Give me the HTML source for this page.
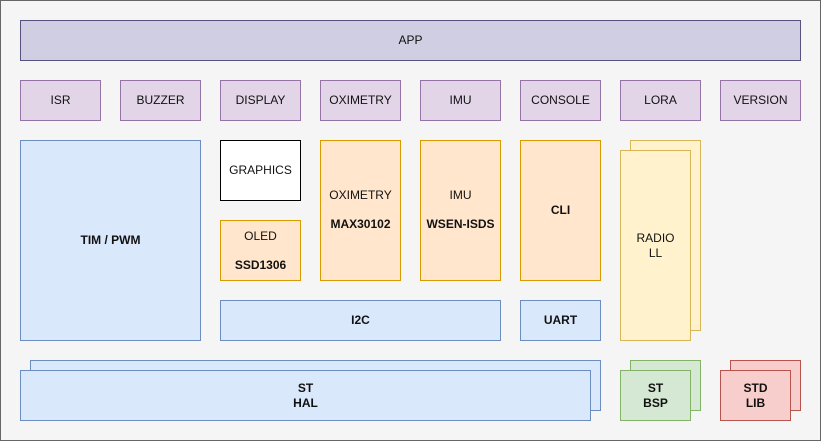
<!DOCTYPE html>
<html><head><style>
body{margin:0;width:821px;height:441px;background:#fff;font-family:"Liberation Sans",sans-serif;font-size:12px;color:#111;}
.c{position:absolute;left:0;top:0;width:819px;height:439px;background:#f5f5f5;border:1px solid #666;}
.b{position:absolute;box-sizing:border-box;border:1px solid;display:flex;align-items:center;justify-content:center;text-align:center;line-height:15px;}
.p{background:#d0cee2;border-color:#56517e}
.l{background:#e1d5e7;border-color:#9673a6}
.u{background:#dae8fc;border-color:#6c8ebf}
.o{background:#ffe6cc;border-color:#d79b00}
.y{background:#fff2cc;border-color:#d6b656}
.g{background:#d5e8d4;border-color:#82b366}
.r{background:#f8cecc;border-color:#b85450}
.w{background:#fff;border-color:#000}
.t{position:absolute;text-align:center;width:100%;left:0}
b{font-weight:bold}
</style></head><body>
<div class="c"></div>
<div class="b p" style="left:20px;top:20px;width:781px;height:41px">APP</div>
<div class="b l" style="left:20px;top:80px;width:81px;height:41px">ISR</div>
<div class="b l" style="left:120px;top:80px;width:81px;height:41px">BUZZER</div>
<div class="b l" style="left:220px;top:80px;width:81px;height:41px">DISPLAY</div>
<div class="b l" style="left:320px;top:80px;width:81px;height:41px">OXIMETRY</div>
<div class="b l" style="left:420px;top:80px;width:81px;height:41px">IMU</div>
<div class="b l" style="left:520px;top:80px;width:81px;height:41px">CONSOLE</div>
<div class="b l" style="left:620px;top:80px;width:81px;height:41px">LORA</div>
<div class="b l" style="left:720px;top:80px;width:81px;height:41px">VERSION</div>
<div class="b u" style="left:20px;top:140px;width:181px;height:201px"><b>TIM / PWM</b></div>
<div class="b w" style="left:220px;top:140px;width:81px;height:61px">GRAPHICS</div>
<div class="b o" style="left:220px;top:220px;width:81px;height:61px;display:block"><div class="t" style="top:8px">OLED</div><div class="t" style="top:37px"><b>SSD1306</b></div></div>
<div class="b o" style="left:320px;top:140px;width:81px;height:141px;display:block"><div class="t" style="top:47px">OXIMETRY</div><div class="t" style="top:76px"><b>MAX30102</b></div></div>
<div class="b o" style="left:420px;top:140px;width:81px;height:141px;display:block"><div class="t" style="top:47px">IMU</div><div class="t" style="top:76px"><b>WSEN-ISDS</b></div></div>
<div class="b o" style="left:520px;top:140px;width:81px;height:141px"><b>CLI</b></div>
<div class="b u" style="left:220px;top:300px;width:281px;height:41px"><b>I2C</b></div>
<div class="b u" style="left:520px;top:300px;width:81px;height:41px"><b>UART</b></div>
<div class="b y" style="left:630px;top:140px;width:71px;height:191px"></div>
<div class="b y" style="left:620px;top:150px;width:71px;height:191px">RADIO<br>LL</div>
<div class="b u" style="left:30px;top:360px;width:571px;height:51px"></div>
<div class="b u" style="left:20px;top:370px;width:571px;height:51px"><b>ST<br>HAL</b></div>
<div class="b g" style="left:630px;top:360px;width:71px;height:51px"></div>
<div class="b g" style="left:620px;top:370px;width:71px;height:51px"><b>ST<br>BSP</b></div>
<div class="b r" style="left:730px;top:360px;width:71px;height:51px"></div>
<div class="b r" style="left:720px;top:370px;width:71px;height:51px"><b>STD<br>LIB</b></div>
</body></html>
